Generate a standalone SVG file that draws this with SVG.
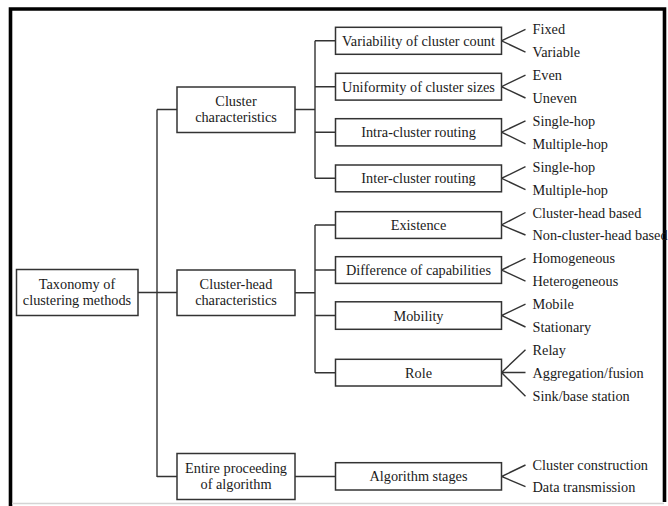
<svg xmlns="http://www.w3.org/2000/svg" width="668" height="506" viewBox="0 0 668 506">
<style>
.box{fill:#fff;stroke:#333;stroke-width:1.5}
.ln{fill:none;stroke:#333;stroke-width:1.4}
.frame{fill:none;stroke:#000;stroke-width:3.6}
text{font-family:"Liberation Serif","Times New Roman",serif;font-size:14.3px;fill:#1a1a1a}
.c{text-anchor:middle}
</style>
<rect width="668" height="506" fill="#fff"/>
<g id="frame">
<path class="frame" d="M10.5,506 V9 H664.5 V502"/>
<line x1="12" y1="503.5" x2="664" y2="503.5" stroke="#d4d4d4" stroke-width="1.5"/>
</g>
<g id="connectors">
<path class="ln" d="M138,292.5 H177"/>
<path class="ln" d="M157,109.5 V477"/>
<path class="ln" d="M157,109.5 H177 M157,476.5 H177"/>
<path class="ln" d="M295,109.5 H315 M315,40.8 V178.3 M315,40.8 H335.5 M315,86.7 H335.5 M315,132.2 H335.5 M315,178.3 H335.5"/>
<path class="ln" d="M295,292.8 H315 M315,225 V372.7 M315,225 H335.5 M315,270 H335.5 M315,315.5 H335.5 M315,372.7 H335.5"/>
<path class="ln" d="M295,476.5 H335.5"/>
<path class="ln" d="M525.5,29.3 L501.5,40.8 L525.5,52.2"/>
<path class="ln" d="M525.5,75.1 L501.5,86.7 L525.5,98"/>
<path class="ln" d="M525.5,120.9 L501.5,132.2 L525.5,143.8"/>
<path class="ln" d="M525.5,166.7 L501.5,178.3 L525.5,189.6"/>
<path class="ln" d="M525.5,212.5 L501.5,225 L525.5,235"/>
<path class="ln" d="M525.5,258.3 L501.5,270 L525.5,281.2"/>
<path class="ln" d="M525.5,304.1 L501.5,315.5 L525.5,327"/>
<path class="ln" d="M525.5,349.7 L501.5,372.5 L525.5,396.3 M501.5,372.5 H525.5"/>
<path class="ln" d="M525.5,465 L501.5,476.5 L525.5,486.7"/>
</g>
<g id="root">
<rect class="box" x="16.5" y="269.5" width="121.5" height="46"/>
<text class="c" transform="translate(77 288.8) scale(1 1.08)">Taxonomy of</text>
<text class="c" transform="translate(77 304.8) scale(1 1.08)">clustering methods</text>
</g>
<g id="cluster-characteristics">
<rect class="box" x="177" y="87" width="118" height="45.5"/>
<text class="c" transform="translate(236 105.8) scale(1 1.08)">Cluster</text>
<text class="c" transform="translate(236 121.8) scale(1 1.08)">characteristics</text>
</g>
<g id="cluster-head-characteristics">
<rect class="box" x="177" y="270" width="118" height="45.5"/>
<text class="c" transform="translate(236 288.8) scale(1 1.08)">Cluster-head</text>
<text class="c" transform="translate(236 304.8) scale(1 1.08)">characteristics</text>
</g>
<g id="entire-proceeding">
<rect class="box" x="177" y="453.5" width="118" height="46"/>
<text class="c" transform="translate(236 472.6) scale(1 1.08)">Entire proceeding</text>
<text class="c" transform="translate(236 488.6) scale(1 1.08)">of algorithm</text>
</g>
<g id="variability">
<rect class="box" x="335.5" y="27.3" width="166" height="27"/>
<text class="c" transform="translate(418.5 45.8) scale(1 1.08)">Variability of cluster count</text>
<text transform="translate(532.5 34.3) scale(1 1.08)">Fixed</text>
<text transform="translate(532.5 57.2) scale(1 1.08)">Variable</text>
</g>
<g id="uniformity">
<rect class="box" x="335.5" y="73.3" width="166" height="26.8"/>
<text class="c" transform="translate(418.5 91.7) scale(1 1.08)">Uniformity of cluster sizes</text>
<text transform="translate(532.5 80.1) scale(1 1.08)">Even</text>
<text transform="translate(532.5 103) scale(1 1.08)">Uneven</text>
</g>
<g id="intra-cluster">
<rect class="box" x="335.5" y="118.7" width="166" height="27.2"/>
<text class="c" transform="translate(418.5 137.2) scale(1 1.08)">Intra-cluster routing</text>
<text transform="translate(532.5 125.9) scale(1 1.08)">Single-hop</text>
<text transform="translate(532.5 148.8) scale(1 1.08)">Multiple-hop</text>
</g>
<g id="inter-cluster">
<rect class="box" x="335.5" y="165" width="166" height="26.8"/>
<text class="c" transform="translate(418.5 183.3) scale(1 1.08)">Inter-cluster routing</text>
<text transform="translate(532.5 171.7) scale(1 1.08)">Single-hop</text>
<text transform="translate(532.5 194.6) scale(1 1.08)">Multiple-hop</text>
</g>
<g id="existence">
<rect class="box" x="335.5" y="211.7" width="166" height="26.7"/>
<text class="c" transform="translate(418.5 230) scale(1 1.08)">Existence</text>
<text transform="translate(532.5 217.5) scale(1 1.08)">Cluster-head based</text>
<text transform="translate(532.5 239.5) scale(1 1.08)">Non-cluster-head based</text>
</g>
<g id="capabilities">
<rect class="box" x="335.5" y="256.7" width="166" height="26.7"/>
<text class="c" transform="translate(418.5 275) scale(1 1.08)">Difference of capabilities</text>
<text transform="translate(532.5 263.3) scale(1 1.08)">Homogeneous</text>
<text transform="translate(532.5 286.2) scale(1 1.08)">Heterogeneous</text>
</g>
<g id="mobility">
<rect class="box" x="335.5" y="301.8" width="166" height="27.5"/>
<text class="c" transform="translate(418.5 320.5) scale(1 1.08)">Mobility</text>
<text transform="translate(532.5 309.1) scale(1 1.08)">Mobile</text>
<text transform="translate(532.5 332) scale(1 1.08)">Stationary</text>
</g>
<g id="role">
<rect class="box" x="335.5" y="359.3" width="166" height="26.7"/>
<text class="c" transform="translate(418.5 377.7) scale(1 1.08)">Role</text>
<text transform="translate(532.5 354.9) scale(1 1.08)">Relay</text>
<text transform="translate(532.5 377.8) scale(1 1.08)">Aggregation/fusion</text>
<text transform="translate(532.5 400.7) scale(1 1.08)">Sink/base station</text>
</g>
<g id="algorithm-stages">
<rect class="box" x="335.5" y="462.7" width="166" height="27.3"/>
<text class="c" transform="translate(418.5 481.3) scale(1 1.08)">Algorithm stages</text>
<text transform="translate(532.5 470) scale(1 1.08)">Cluster construction</text>
<text transform="translate(532.5 491.7) scale(1 1.08)">Data transmission</text>
</g>
</svg>
